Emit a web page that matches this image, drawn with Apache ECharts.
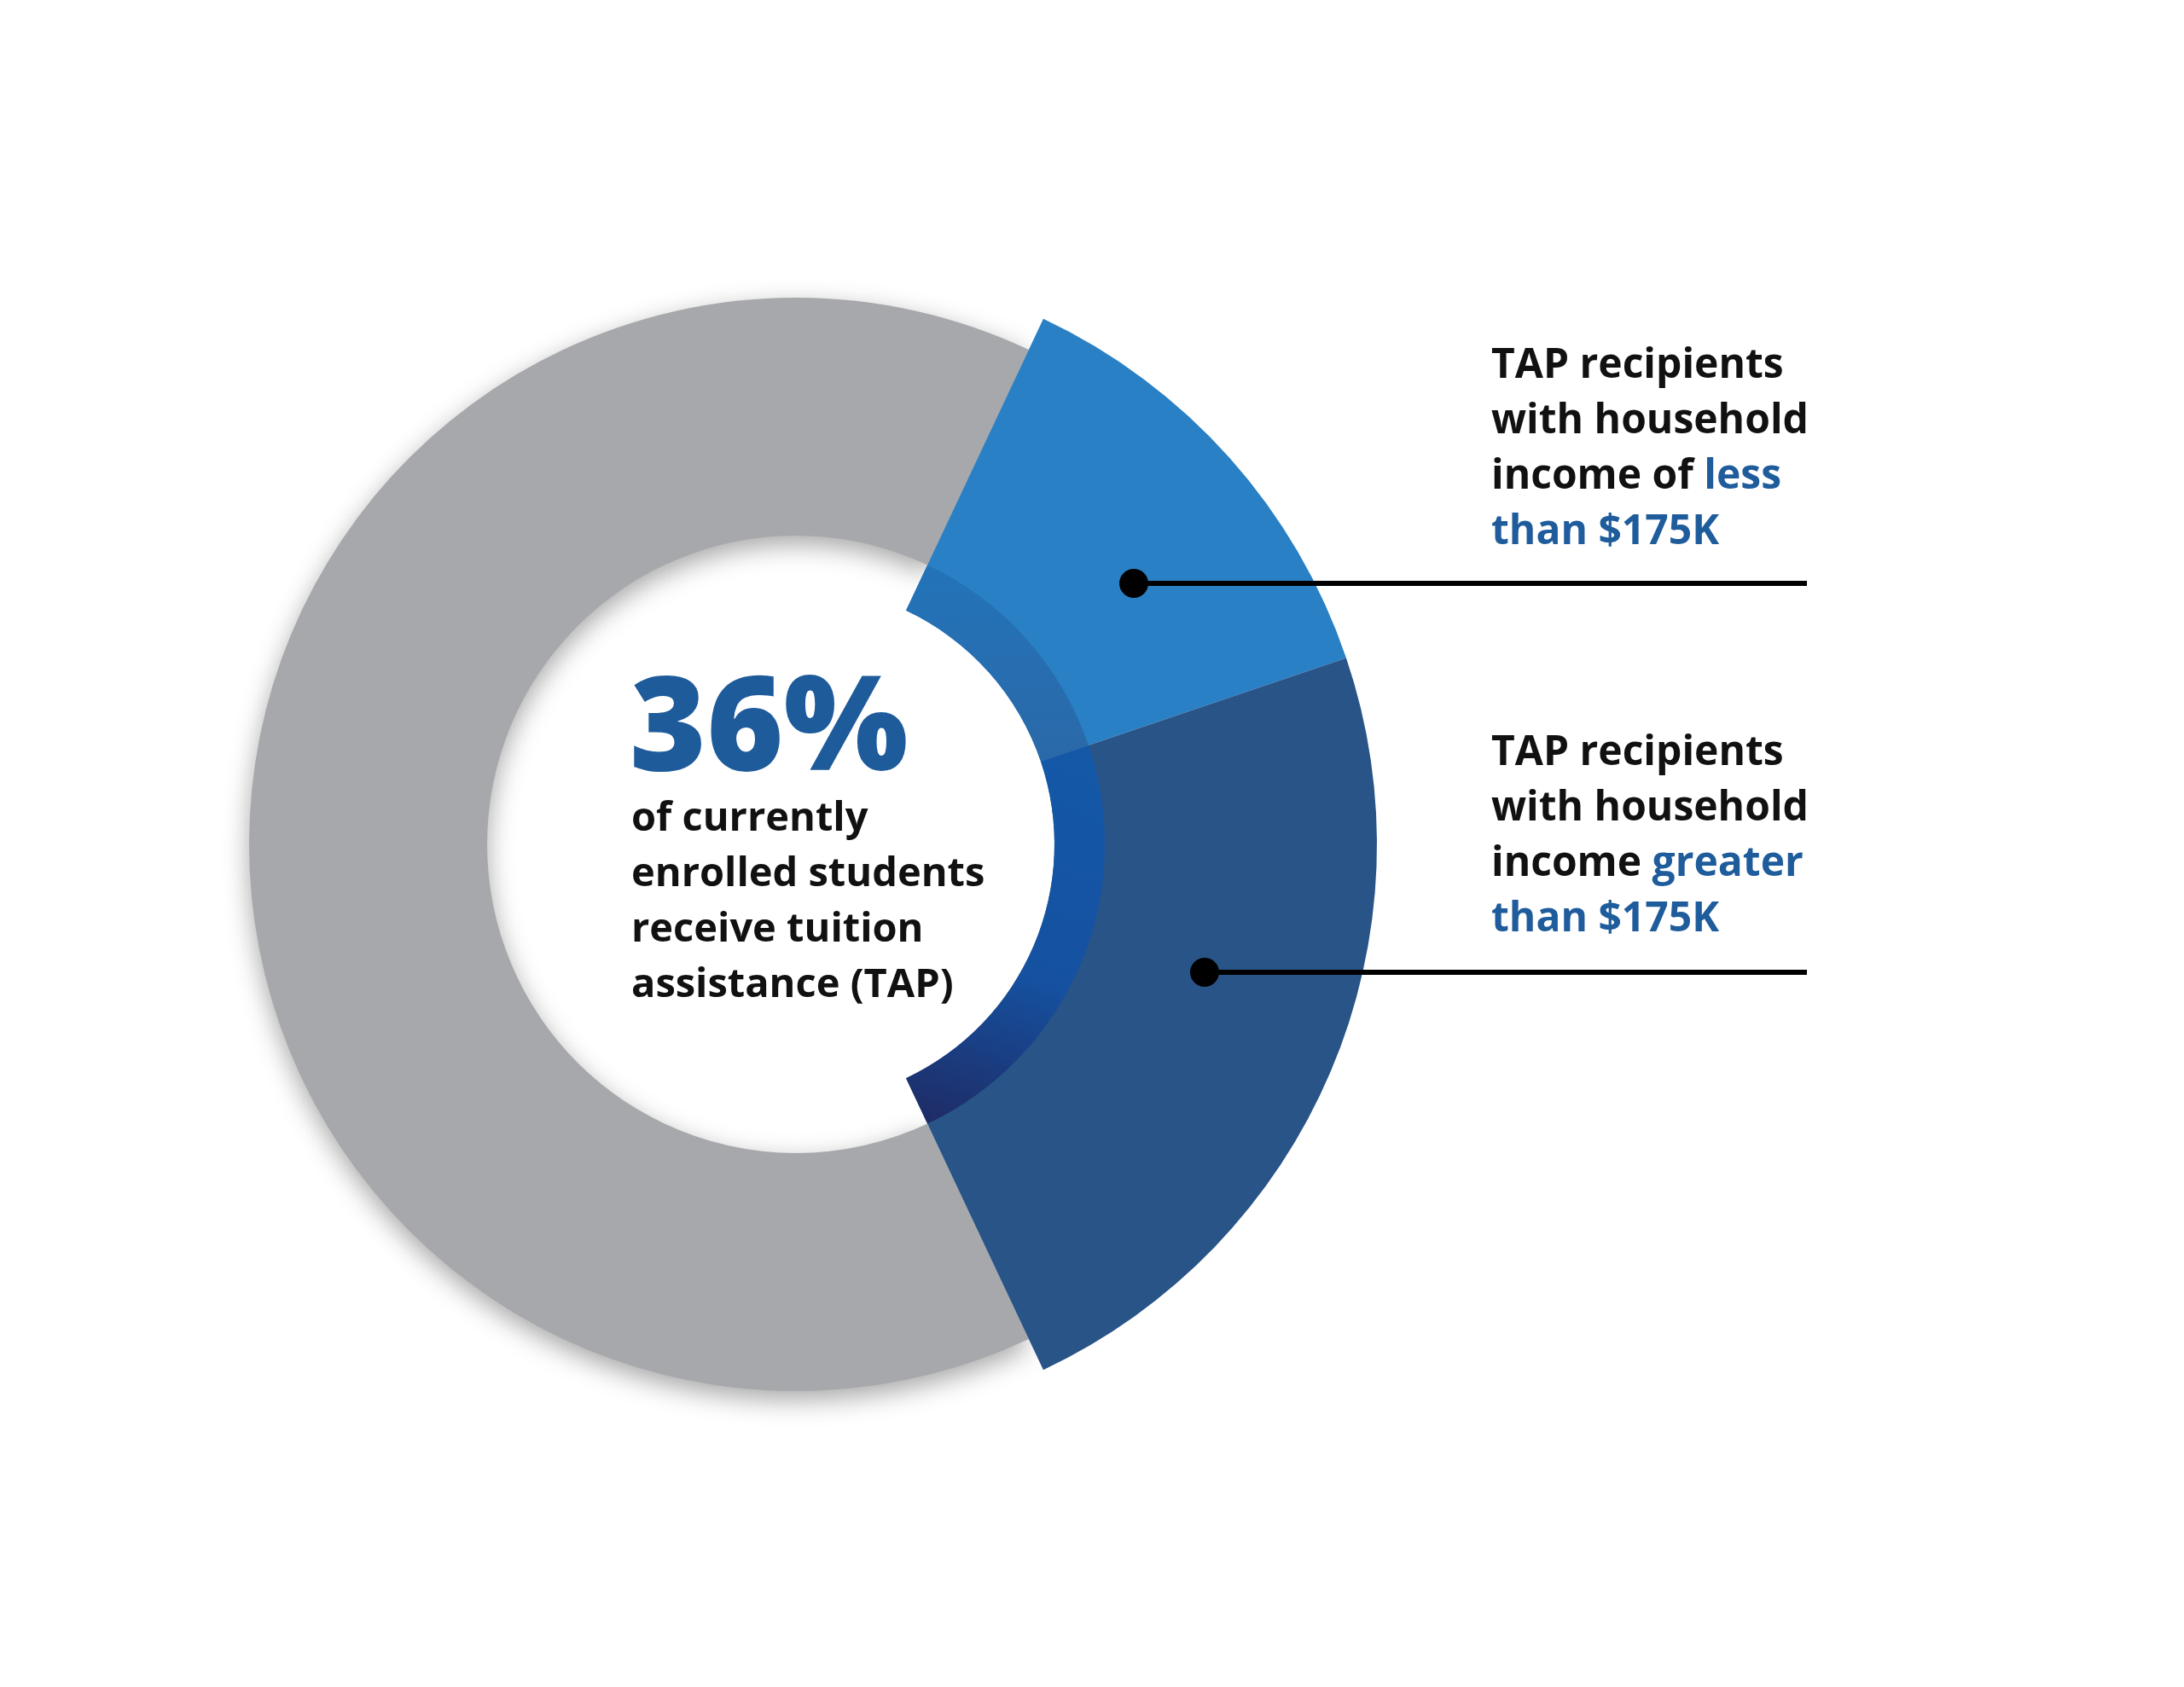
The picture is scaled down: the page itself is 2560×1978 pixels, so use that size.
<!DOCTYPE html>
<html>
<head>
<meta charset="utf-8">
<title>TAP recipients</title>
<script src="https://cdn.jsdelivr.net/npm/echarts@6/dist/echarts.min.js"></script>
<style>
  html, body { margin: 0; padding: 0; background: #fff; }
  #chart { width: 2560px; height: 1978px; }
</style>
</head>
<body>
<div id="chart"></div>
<script>
// data
const categories = ['Less than $175K', 'Greater than $175K', 'Not TAP recipients'];
const shares = [12.8, 23.2, 64];
const headline = '36%';
const centerLines = ['of currently', 'enrolled students', 'receive tuition', 'assistance (TAP)'];
const lessLabel = ['TAP recipients', 'with household', 'income of |less', 'than $175K'];
const greaterLabel = ['TAP recipients', 'with household', 'income |greater', 'than $175K'];

const CENTER = [933, 990];
const START = 64.8;
const FONT = '"Open Sans", "Noto Sans", sans-serif';

const chart = echarts.init(document.getElementById('chart'));

// builds rich text: parts after "|" on a line are blue, as is the whole last line
function richLines(lines) {
  return lines.map((l, i) => {
    if (i === lines.length - 1) return '{b|' + l + '}';
    const [k, b] = l.split('|');
    return '{k|' + k + '}' + (b ? '{b|' + b + '}' : '');
  }).join('\n');
}
const rich = {
  k: { fill: '#111111', fontSize: 48, fontWeight: 'bold', fontFamily: FONT, lineHeight: 65 },
  b: { fill: '#1f5c9c', fontSize: 48, fontWeight: 'bold', fontFamily: FONT, lineHeight: 65 }
};

const hidden = { color: 'rgba(0,0,0,0)' };
const blueColors = ['#2980c5', '#295487'];
const bandColors = [
  new echarts.graphic.LinearGradient(0, 0, 0, 1, [
    { offset: 0, color: '#2373b9' }, { offset: 1, color: '#2a69a8' }
  ]),
  new echarts.graphic.LinearGradient(0.6, 0, 0, 1, [
    { offset: 0, color: '#1458a8' }, { offset: 0.55, color: '#1551a0' }, { offset: 1, color: '#1f2a63' }
  ])
];

const common = {
  type: 'pie',
  center: CENTER,
  startAngle: START,
  silent: true,
  label: { show: false },
  labelLine: { show: false },
  emphasis: { disabled: true }
};

chart.setOption({
  animation: false,
  backgroundColor: '#ffffff',
  series: [
    {
      ...common,
      name: 'others',
      radius: [362, 641],
      data: categories.map((c, i) => ({
        name: c,
        value: shares[i],
        itemStyle: i < 2 ? hidden : {
          color: '#a7a8ab', shadowBlur: 30, shadowColor: 'rgba(0,0,0,0.35)', shadowOffsetY: 10
        }
      }))
    },
    {
      ...common,
      name: 'TAP',
      radius: [303, 681],
      data: categories.map((c, i) => ({
        name: c, value: shares[i], itemStyle: i < 2 ? { color: blueColors[i] } : hidden
      }))
    },
    {
      ...common,
      name: 'band',
      radius: [303, 362],
      data: categories.map((c, i) => ({
        name: c, value: shares[i], itemStyle: i < 2 ? { color: bandColors[i] } : hidden
      }))
    }
  ],
  graphic: [
    { type: 'line', z: 100, shape: { x1: 1329, y1: 684, x2: 2118, y2: 684 }, style: { stroke: '#000', lineWidth: 6 } },
    { type: 'circle', z: 100, shape: { cx: 1329, cy: 684, r: 17 }, style: { fill: '#000' } },
    { type: 'line', z: 100, shape: { x1: 1412, y1: 1140, x2: 2118, y2: 1140 }, style: { stroke: '#000', lineWidth: 6 } },
    { type: 'circle', z: 100, shape: { cx: 1412, cy: 1140, r: 17 }, style: { fill: '#000' } },
    {
      type: 'text', z: 100, x: 738, y: 859,
      style: { text: headline, font: '800 154px ' + FONT, fill: '#1e5b9b', verticalAlign: 'middle' }
    },
    {
      type: 'text', z: 100, x: 740, y: 928,
      style: { text: centerLines.join('\n'), font: 'bold 47px ' + FONT, lineHeight: 65, fill: '#111111' }
    },
    { type: 'text', z: 100, x: 1748, y: 397, style: { text: richLines(lessLabel), rich: rich } },
    { type: 'text', z: 100, x: 1748, y: 851, style: { text: richLines(greaterLabel), rich: rich } }
  ]
});
</script>
</body>
</html>
